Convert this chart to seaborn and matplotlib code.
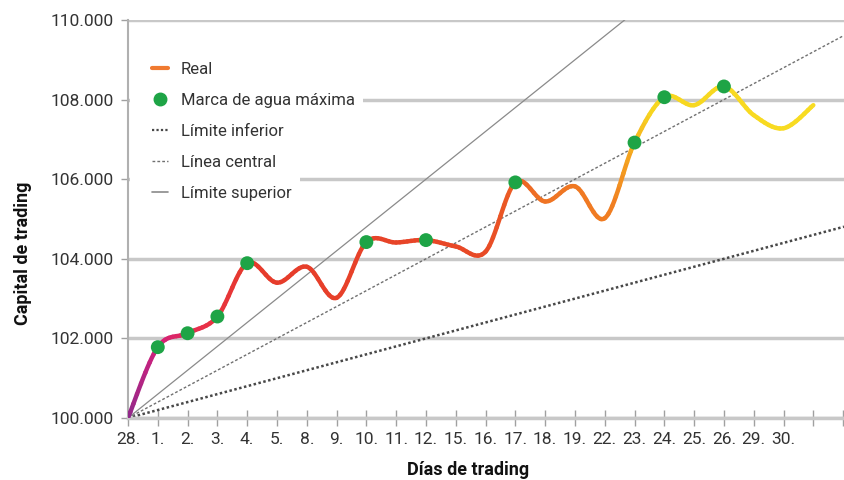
import numpy as np
import matplotlib
matplotlib.use("Agg")
import matplotlib.pyplot as plt
import seaborn as sns
from matplotlib.path import Path
from matplotlib.patches import PathPatch, Rectangle
from matplotlib.lines import Line2D
from matplotlib.colors import to_rgb

# ---------------- data ----------------
day_labels = ["28.", "1.", "2.", "3.", "4.", "5.", "8.", "9.", "10.", "11.", "12.",
              "15.", "16.", "17.", "18.", "19.", "22.", "23.", "24.", "25.", "26.",
              "29.", "30."]
capital = [100000, 101780, 102130, 102550, 103890, 103400, 103800, 103020,
           104420, 104410, 104470, 104310, 104180, 105920, 105440, 105820,
           105020, 106920, 108060, 107860, 108330, 107610, 107280, 107860]
start_capital = 100000
limit_names = ["Límite inferior", "Línea central", "Límite superior"]
limit_slopes = [200, 400, 600]          # capital gained per trading day
y_ticks = [100000, 102000, 104000, 106000, 108000, 110000]

# ---------------- style ----------------
sns.set_theme(style="white")
plt.rcParams["font.family"] = ["Roboto", "DejaVu Sans"]

fig = plt.figure(figsize=(8.44, 4.80), dpi=100)
ax = fig.add_axes([128 / 844, 62 / 480, 716 / 844, 398 / 480])

n_days = len(capital)
x = np.arange(n_days)
y = np.array(capital, dtype=float)
xmax = 24.03

# limit lines
limit_styles = [dict(color="#484848", lw=1.8, ls=(0, (1, 1))),
                dict(color="#707070", lw=1.0, ls=(0, (2, 1.5))),
                dict(color="#8a8a8a", lw=0.9, ls="-")]
for name, slope, st in zip(limit_names, limit_slopes, limit_styles):
    xs = np.array([0.0, xmax])
    sns.lineplot(x=xs, y=start_capital + slope * xs, ax=ax, color=st["color"],
                 linewidth=st["lw"], linestyle=st["ls"], zorder=2.5)

# gradient colours along the real curve
stops = [(0, "#8a2b8c"), (1, "#d3207c"), (2.5, "#e8304a"), (4, "#e63a2c"),
         (12, "#e84a26"), (14, "#ef7424"), (16.3, "#f07e22"), (17, "#f5b01f"),
         (17.6, "#f7d620"), (23, "#f8dc22")]
sp = np.array([s[0] for s in stops])
sc = np.array([to_rgb(s[1]) for s in stops])


def grad(t):
    return tuple(np.interp(t, sp, sc[:, k]) for k in range(3))


# smooth (Catmull-Rom -> Bezier) rendering of the real curve, transData coords
P = np.column_stack([x, y])
Pext = np.vstack([P[0], P, P[-1]])


def bez(c, t):
    return ((1 - t) ** 3) * c[0] + 3 * ((1 - t) ** 2) * t * c[1] + 3 * (1 - t) * t * t * c[2] + t ** 3 * c[3]


def dbez(c, t):
    return 3 * ((1 - t) ** 2) * (c[1] - c[0]) + 6 * (1 - t) * t * (c[2] - c[1]) + 3 * t * t * (c[3] - c[2])


nsub = 8
for i in range(n_days - 1):
    p0, p1, p2, p3 = Pext[i], Pext[i + 1], Pext[i + 2], Pext[i + 3]
    c = [p1, p1 + (p2 - p0) / 6.0, p2 - (p3 - p1) / 6.0, p2]
    for k in range(nsub):
        a, b = k / nsub, (k + 1) / nsub
        q0, q3 = bez(c, a), bez(c, b)
        q1 = q0 + (b - a) / 3 * dbez(c, a)
        q2 = q3 - (b - a) / 3 * dbez(c, b)
        path = Path([q0, q1, q2, q3], [Path.MOVETO, Path.CURVE4, Path.CURVE4, Path.CURVE4])
        ax.add_patch(PathPatch(path, fill=False, lw=3.2, edgecolor=grad(i + (a + b) / 2),
                               capstyle="round", joinstyle="round", zorder=3))

# high-water marks: new running maximum of capital
runmax = np.maximum.accumulate(y)
is_hwm = np.r_[False, y[1:] > runmax[:-1]]
sns.scatterplot(x=x[is_hwm], y=y[is_hwm], ax=ax, color="#1ea446", s=100,
                edgecolor="none", zorder=4)

# axes
ax.set_xlim(0, xmax)
ax.set_ylim(100000, 110000)
ax.set_xticks(np.arange(0, 25))
ax.set_xticklabels(day_labels + [""] * (25 - len(day_labels)))
ax.set_yticks(y_ticks)
ax.set_yticklabels([f"{v:,.0f}".replace(",", ".") for v in y_ticks])
ax.grid(axis="y", color="#c8c8c8", lw=2.5)
ax.grid(axis="x", visible=False)
ax.set_axisbelow(True)

for s in ["top", "right"]:
    ax.spines[s].set_visible(False)
ax.spines["left"].set_color("#b0b0b0")
ax.spines["left"].set_linewidth(1.5)
ax.spines["bottom"].set_color("#c8c8c8")
ax.spines["bottom"].set_linewidth(2.5)

ax.tick_params(axis="x", direction="inout", length=12, width=1, color="#a0a0a0",
               pad=4, labelsize=12.5, labelcolor="#333333", bottom=True)
ax.tick_params(axis="y", direction="out", length=5, width=1, color="#a0a0a0",
               pad=5, labelsize=12.5, labelcolor="#333333", left=True)

ax.set_xlabel("Días de trading", fontsize=13, fontweight="bold", color="#111111")
ax.set_ylabel("Capital de trading", fontsize=13, fontweight="bold", color="#111111")
ax.xaxis.set_label_coords(0.475, -0.108)
ax.yaxis.set_label_coords(-0.134, 0.415)

# legend
handles = [Line2D([], [], color="#f07a30", lw=3),
           Line2D([], [], color="#1ea446", marker="o", ls="none", markersize=9),
           Line2D([], [], **{"color": "#484848", "lw": 1.6, "ls": (0, (1, 1))}),
           Line2D([], [], **{"color": "#707070", "lw": 1.0, "ls": (0, (2, 1.5))}),
           Line2D([], [], **{"color": "#8a8a8a", "lw": 1.2, "ls": "-"})]
labels = ["Real", "Marca de agua máxima"] + limit_names
leg = ax.legend(handles, labels, loc="upper left", bbox_to_anchor=(0.0335, 0.895),
                frameon=False, fontsize=12, handlelength=0.96, handletextpad=0.78,
                labelspacing=0.96, borderpad=0, borderaxespad=0)
leg.set_zorder(6)
for t in leg.get_texts():
    t.set_color("#333333")
    t.set_bbox(dict(facecolor="white", edgecolor="none", pad=6))
ax.add_patch(Rectangle((0.003, 0.52), 0.07, 0.405, transform=ax.transAxes,
                       facecolor="white", edgecolor="none", zorder=1))

fig.savefig("out.png", dpi=100)
